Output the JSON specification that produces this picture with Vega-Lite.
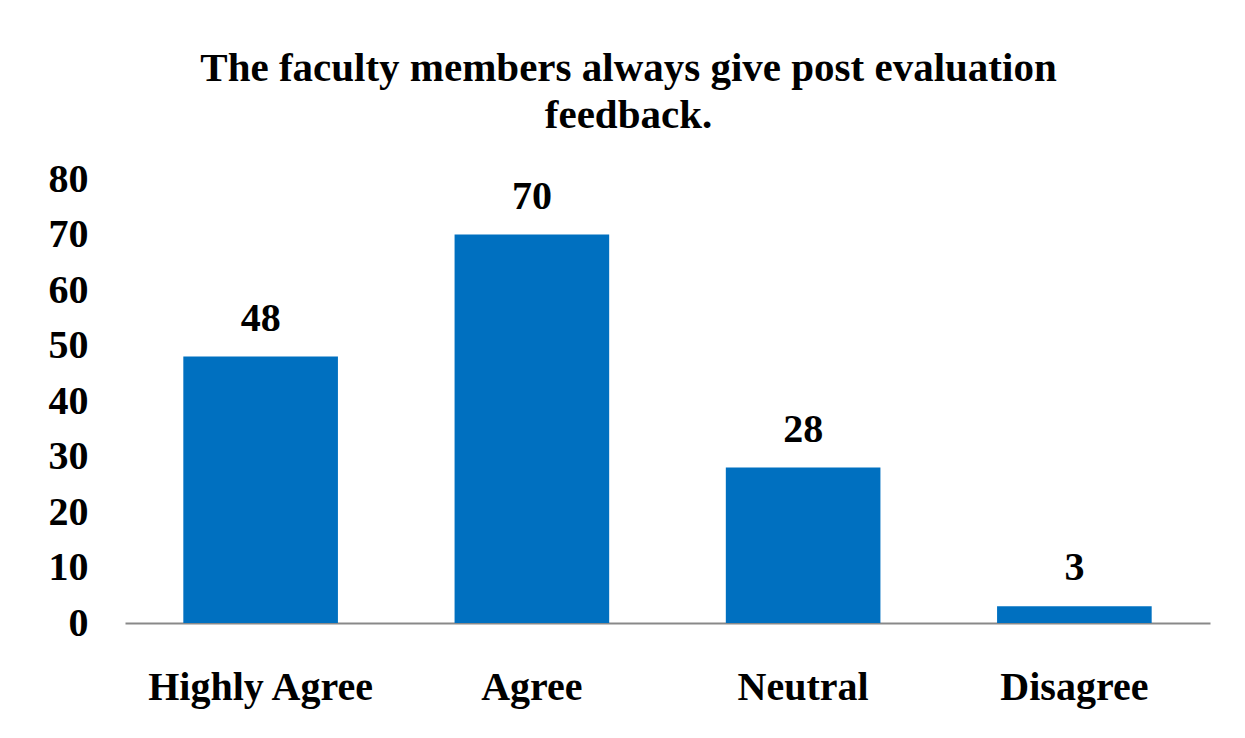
{
  "$schema": "https://vega.github.io/schema/vega-lite/v6.json",
  "width": 1085,
  "height": 444,
  "autosize": {"type": "none"},
  "padding": {"left": 125, "top": 179, "right": 35, "bottom": 115},
  "background": "white",
  "title": {
    "text": ["The faculty members always give post evaluation", "feedback."],
    "font": "Liberation Serif",
    "fontSize": 41,
    "fontWeight": "bold",
    "color": "black",
    "anchor": "middle",
    "dx": -39,
    "lineHeight": 47,
    "offset": 22
  },
  "data": {
    "values": [
      {"response": "Highly Agree", "count": 48},
      {"response": "Agree", "count": 70},
      {"response": "Neutral", "count": 28},
      {"response": "Disagree", "count": 3}
    ]
  },
  "encoding": {
    "x": {
      "field": "response",
      "type": "nominal",
      "sort": null,
      "scale": {"paddingInner": 0.43, "paddingOuter": 0.215},
      "axis": {
        "title": null,
        "labelAngle": 0,
        "labelLimit": 0,
        "labelFont": "Liberation Serif",
        "labelFontSize": 40,
        "labelFontWeight": "bold",
        "labelColor": "black",
        "labelPadding": 44,
        "ticks": false,
        "domainColor": "#898989",
        "domainWidth": 2
      }
    },
    "y": {
      "field": "count",
      "type": "quantitative",
      "scale": {"domain": [0, 80]},
      "axis": {
        "title": null,
        "values": [0, 10, 20, 30, 40, 50, 60, 70, 80],
        "grid": false,
        "domain": false,
        "ticks": false,
        "labelFont": "Liberation Serif",
        "labelFontSize": 40,
        "labelFontWeight": "bold",
        "labelColor": "black",
        "labelPadding": 37
      }
    }
  },
  "layer": [
    {"mark": {"type": "bar", "color": "#0070C0"}},
    {
      "mark": {
        "type": "text",
        "font": "Liberation Serif",
        "fontSize": 40,
        "fontWeight": "bold",
        "color": "black",
        "baseline": "bottom",
        "dy": -18
      },
      "encoding": {"text": {"field": "count", "type": "quantitative"}}
    }
  ],
  "config": {"view": {"stroke": null}}
}
